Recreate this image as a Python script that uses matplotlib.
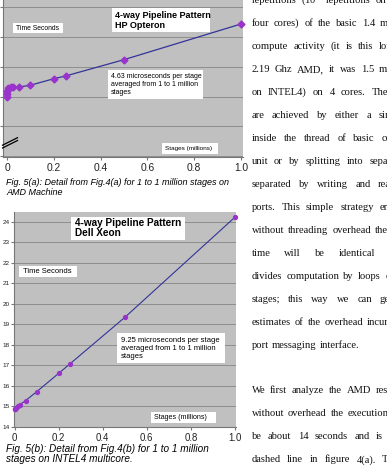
import matplotlib
matplotlib.use("Agg")
import matplotlib.pyplot as plt
from matplotlib.patches import Rectangle
from matplotlib.lines import Line2D

W, H = 387, 472
plt.rcParams['mathtext.fontset'] = 'stix'
plt.rcParams['font.family'] = ['Liberation Sans', 'DejaVu Sans']

# ---------------- data ----------------
amd_stages = [0.000001, 0.0001, 0.001, 0.005, 0.015, 0.025, 0.05, 0.1, 0.2, 0.25, 0.5, 1.0]
amd_time = [13.99, 14.17, 14.39, 14.55, 14.62, 14.63, 14.64, 14.76, 15.2, 15.38, 16.48, 18.88]
xeon_stages = [0.000001, 0.0001, 0.001, 0.005, 0.015, 0.025, 0.05, 0.1, 0.2, 0.25, 0.5, 1.0]
xeon_time = [14.85, 14.86, 14.88, 14.92, 15.0, 15.08, 15.27, 15.7, 16.6, 17.05, 19.33, 24.22]

x_ticks = [0, 0.2, 0.4, 0.6, 0.8, 1.0]
x_tick_labels = ["0", "0.2", "0.4", "0.6", "0.8", "1.0"]
amd_y_ticks = [10, 12, 14, 16, 18, 20]
xeon_y_ticks = [14, 15, 16, 17, 18, 19, 20, 21, 22, 23, 24]

amd_title = ["4-way Pipeline Pattern", "HP Opteron"]
xeon_title = ["4-way Pipeline Pattern", "Dell Xeon"]
y_label_text = "Time Seconds"
x_label_text = "Stages (millions)"
amd_note = ["4.63 microseconds per stage", "averaged from 1 to 1 million", "stages"]
xeon_note = ["9.25 microseconds per stage", "averaged from 1 to 1 million", "stages"]
amd_caption = ["Fig. 5(a): Detail from Fig.4(a) for 1 to 1 million stages on", "AMD Machine"]
xeon_caption = ["Fig. 5(b): Detail from Fig.4(b) for 1 to 1 million", "stages on INTEL4 multicore."]

body_lines = [
    "repetitions (10$^7$ repetitions on the",
    "four cores) of the basic 1.4 microsecond",
    "compute activity (it is this long on the",
    "2.19 Ghz AMD, it was 1.5 microseconds",
    "on INTEL4) on 4 cores. The results",
    "are achieved by either a single loop",
    "inside the thread of basic compute",
    "unit or by splitting into separate stages",
    "separated by writing and reading",
    "ports. This simple strategy ensures that",
    "without threading overhead the total",
    "time will be identical whether one",
    "divides computation by loops or into",
    "stages; this way we can get direct",
    "estimates of the overhead incurred by the",
    "port messaging interface.",
    "",
    "We first analyze the AMD results where",
    "without overhead the execution time would",
    "be about 14 seconds and is shown as the",
    "dashed line in figure 4(a). The pipeline",
    "takes the 4.10$^7$ repetitions and splits",
]
body_gaps = [5, 4.8, 5.5, 4.8, 6, 7.5, 7, 6, 7.5, 6, 4, 14, 4.3, 8, 4, 3.5, 0, 4.8, 4, 6.5, 6.5, 4]

# ---------------- styling ----------------
BG = '#c0c0c0'
GRID = '#8e8e8e'
LINE = '#333399'
MARK = '#9933cc'

fig = plt.figure(figsize=(W / 100, H / 100), dpi=100)


def fr(l, t, r, b):
    return [l / W, 1 - b / H, (r - l) / W, (b - t) / H]


def style_axes(ax):
    ax.set_facecolor(BG)
    for s in ['top', 'right']:
        ax.spines[s].set_visible(False)
    for s in ['left', 'bottom']:
        ax.spines[s].set_color('#777777')
        ax.spines[s].set_linewidth(0.8)
    ax.grid(axis='y', color=GRID, linewidth=0.7)
    ax.set_axisbelow(True)
    ax.set_xticks(x_ticks)
    ax.set_xticklabels(x_tick_labels)


# ---- top chart (AMD) ----
ax1 = fig.add_axes(fr(3.5, -1, 243, 157))
style_axes(ax1)
ax1.plot(amd_stages, amd_time, color=LINE, linewidth=0.9, marker='D', markersize=3.5,
         markerfacecolor=MARK, markeredgecolor=MARK, zorder=3, clip_on=False)
ax1.set_xlim(-0.015, 1.0085)
ax1.set_ylim(9.933, 20.56)
ax1.set_yticks(amd_y_ticks)
ax1.tick_params(axis='x', labelsize=7.4, length=2, pad=2.5, colors='#777777', labelcolor='#222222')
ax1.tick_params(axis='y', labelsize=5, length=2, pad=1, colors='#777777', labelcolor='#222222')

# axis-break mark
for dy in (0, 2.8):
    fig.add_artist(Line2D([2.5 / W, 17.5 / W], [1 - (148 - dy) / H, 1 - (140.5 - dy) / H],
                          transform=fig.transFigure, color='black', linewidth=0.9))

# ---- bottom chart (Xeon) ----
ax2 = fig.add_axes(fr(14, 212, 236, 427))
style_axes(ax2)
ax2.plot(xeon_stages, xeon_time, color=LINE, linewidth=0.8, marker='o', markersize=2.8,
         markerfacecolor=MARK, markeredgecolor=MARK, zorder=3, clip_on=False)
ax2.set_xlim(-0.0023, 1.0045)
ax2.set_ylim(13.985, 24.47)
ax2.set_yticks(xeon_y_ticks)
ax2.tick_params(axis='x', labelsize=6.9, length=2, pad=2.5, colors='#777777', labelcolor='#222222')
ax2.tick_params(axis='y', labelsize=4.6, length=2.5, pad=0.8, colors='#777777', labelcolor='#222222')


# ---- text boxes ----
def box(l, t, r, b):
    fig.add_artist(Rectangle((l / W, 1 - b / H), (r - l) / W, (b - t) / H,
                             transform=fig.transFigure, facecolor='white',
                             edgecolor='none', zorder=2))


def lines_at(x, ys, texts, size, **kw):
    for y, s in zip(ys, texts):
        fig.text(x / W, 1 - y / H, s, fontsize=size, ha='left', va='center',
                 color='black', zorder=3, **kw)


# top chart boxes
box(112, 8, 210, 32)
lines_at(115, [15, 25.5], amd_title, 6.5, fontweight='bold')
box(13, 23, 63, 33)
lines_at(16, [28], [y_label_text], 4.9)
box(108, 70, 203, 99)
lines_at(111, [76.7, 84.5, 92.7], amd_note, 5.0)
box(162, 143, 218, 154)
lines_at(165, [148.5], [x_label_text], 4.6)

# bottom chart boxes
box(71, 217, 185, 240)
lines_at(75, [222.7, 233.5], xeon_title, 7.2, fontweight='bold')
box(19, 266, 77, 277)
lines_at(23, [271.5], [y_label_text], 5.5)
box(117, 333, 225, 363)
lines_at(121, [340, 348.4, 356.8], xeon_note, 5.5)
box(151, 412, 216, 423)
lines_at(154, [417.5], [x_label_text], 5.1)

# captions
lines_at(6, [182.7, 192.7], amd_caption, 6.45, fontstyle='italic')
lines_at(6, [449.3, 459.5], xeon_caption, 7.2, fontstyle='italic')

# ---- right column body text (justified look, clipped by the page edge) ----
renderer = fig.canvas.get_renderer()
body_x0 = 251.5
body_y0 = 3.3
body_dy = 22.95
for i, (line, gap) in enumerate(zip(body_lines, body_gaps)):
    if not line:
        continue
    yb = body_y0 + i * body_dy
    x = body_x0
    for w in line.split(' '):
        t = fig.text(x / W, 1 - yb / H, w, fontsize=7.6, family='Liberation Serif',
                     ha='left', va='baseline', color='#111111')
        x += t.get_window_extent(renderer).width + gap

fig.savefig('out.png', dpi=100)
